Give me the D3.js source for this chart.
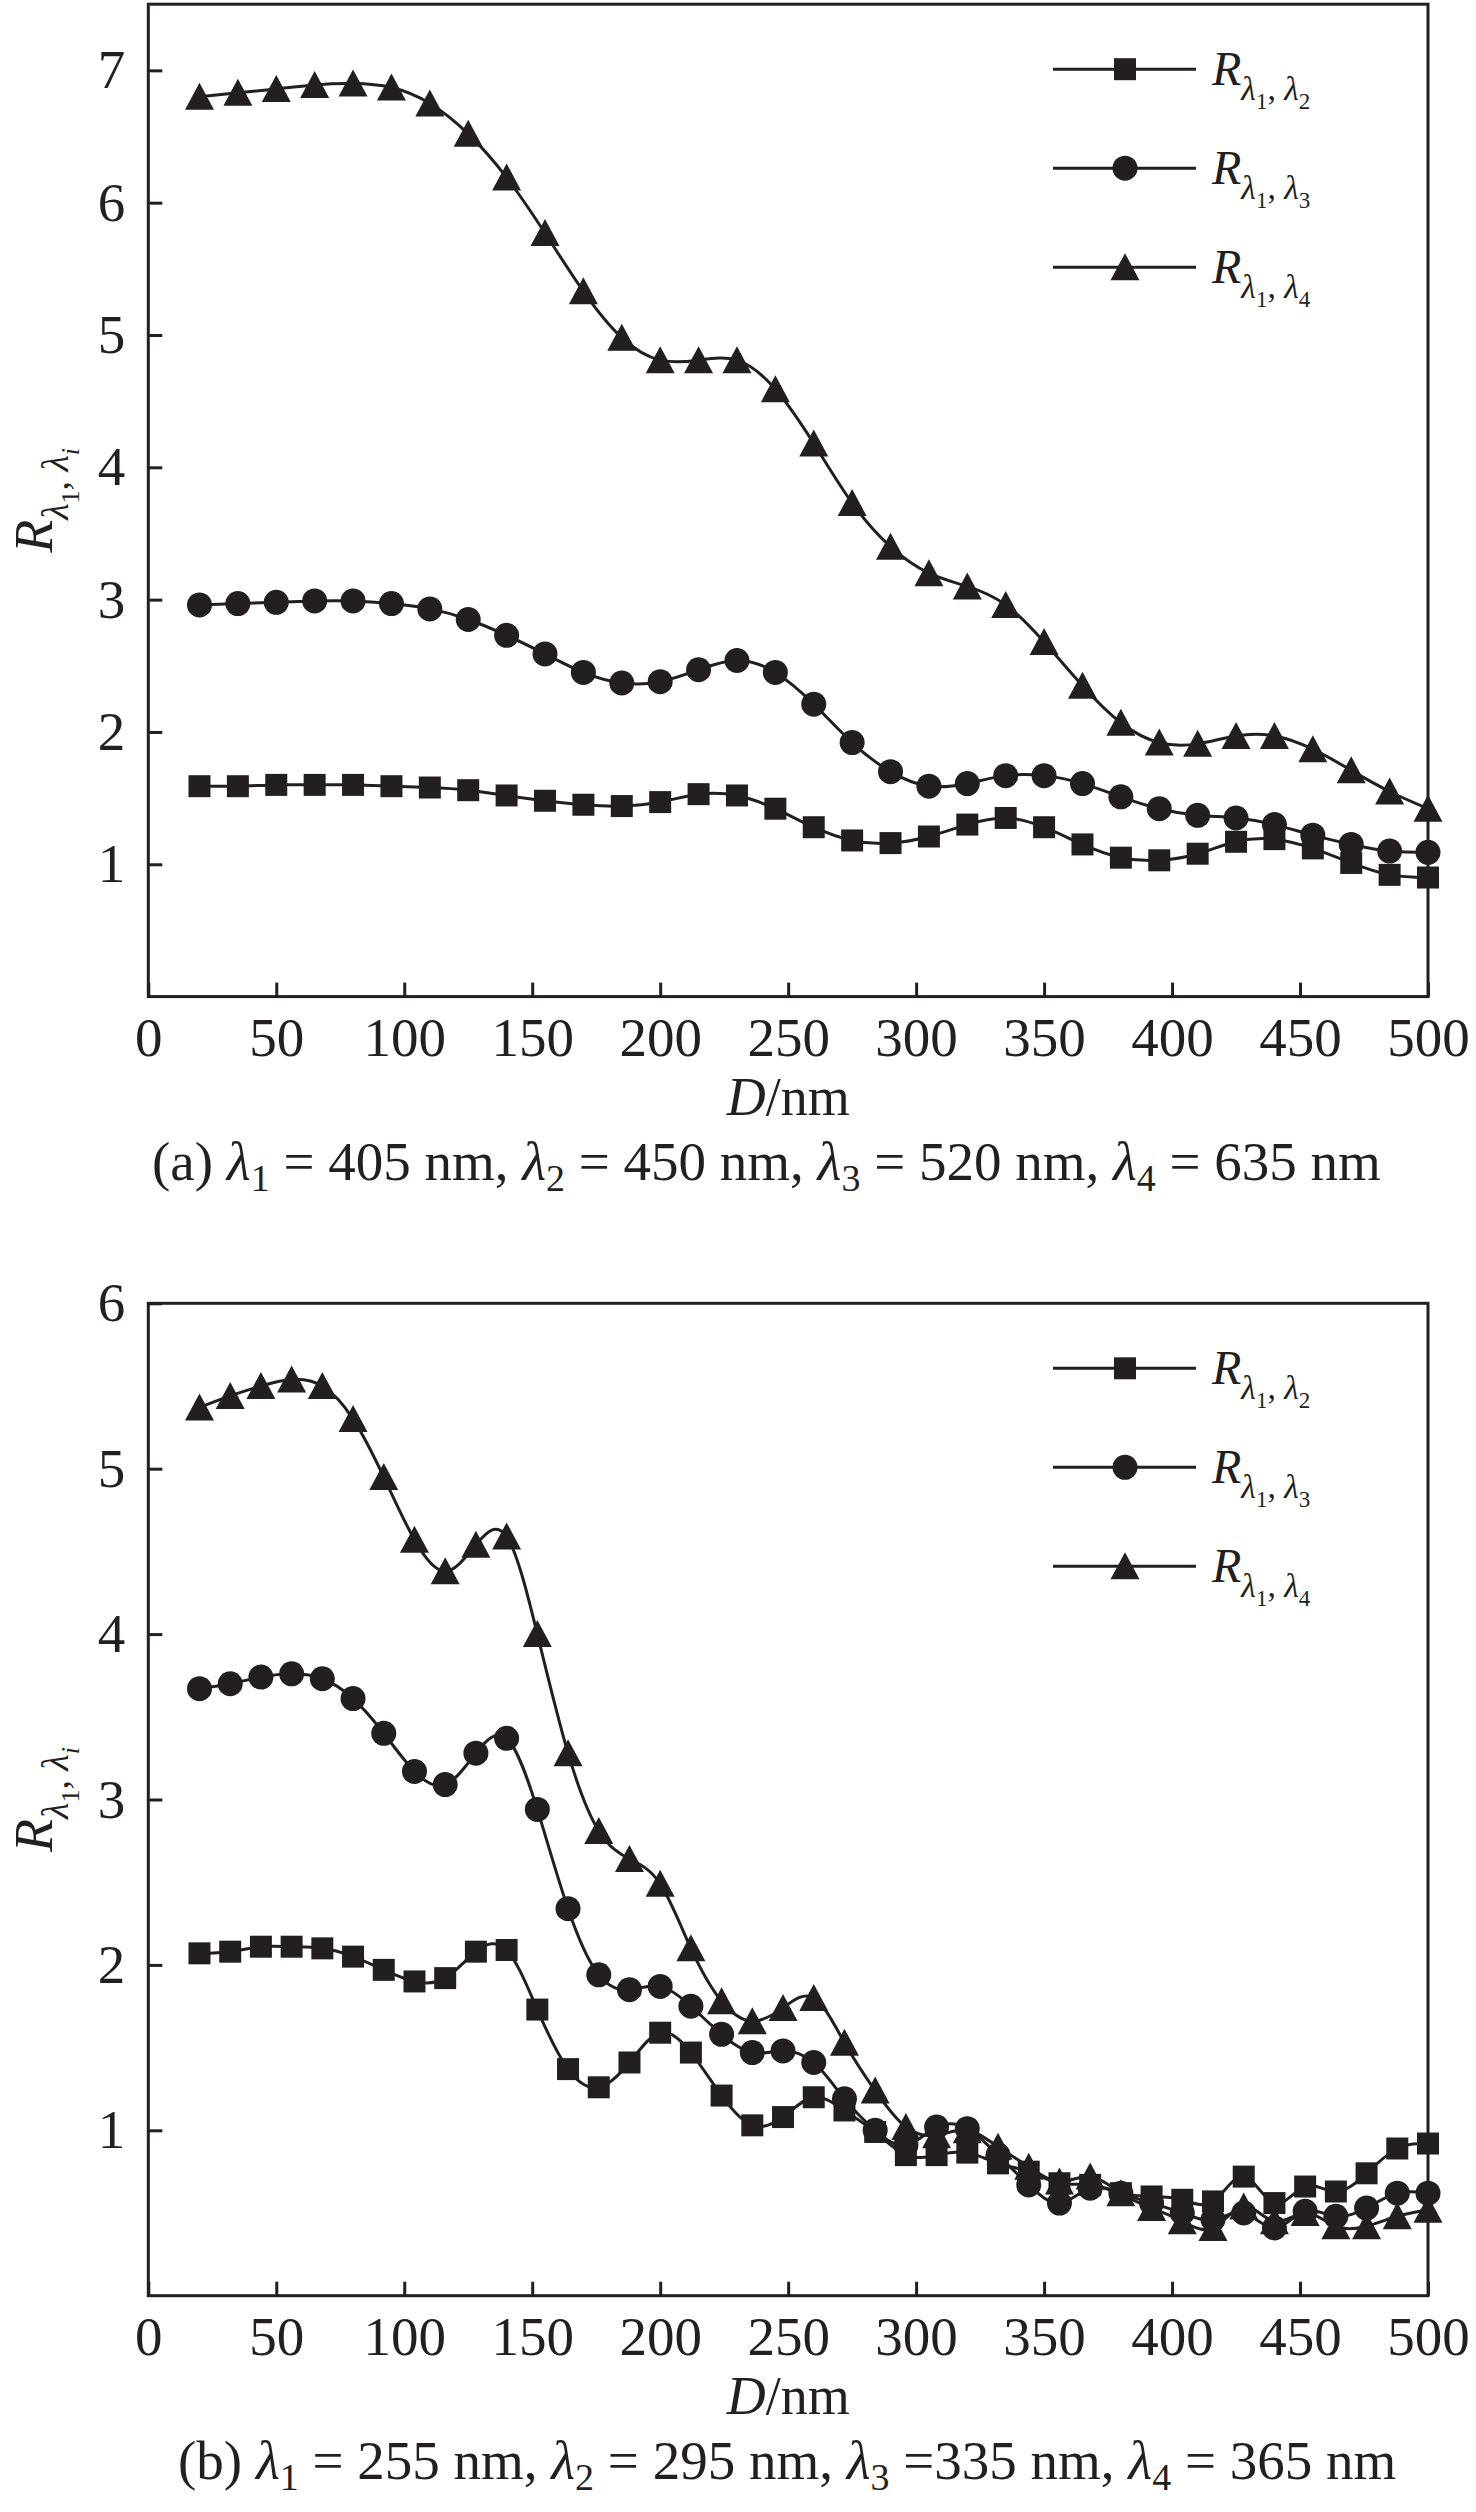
<!DOCTYPE html>
<html>
<head>
<meta charset="utf-8">
<script src="https://cdn.jsdelivr.net/npm/d3@7"></script>
<style>
  body { margin: 0; background: #fff; }
  svg { display: block; }
  text { font-family: "Liberation Serif", "Times New Roman", serif; fill: #231f20; }
</style>
</head>
<body>
<div id="chart"></div>
<script>
// ---- data ----
const xTicks = [0, 50, 100, 150, 200, 250, 300, 350, 400, 450, 500];

// panel (a): D step 15 nm
const dA = [20, 35, 50, 65, 80, 95, 110, 125, 140, 155, 170, 185, 200, 215, 230, 245, 260,
    275, 290, 305, 320, 335, 350, 365, 380, 395, 410, 425, 440, 455, 470, 485, 500];
const a12 = [1.59, 1.59, 1.60, 1.60, 1.60, 1.59, 1.58, 1.56, 1.52, 1.48, 1.45, 1.44, 1.47, 1.53, 1.52, 1.42, 1.28,
    1.18, 1.16, 1.21, 1.30, 1.35, 1.28, 1.15, 1.05, 1.03, 1.08, 1.17, 1.19, 1.12, 1.01, 0.92, 0.90];
const a13 = [2.96, 2.97, 2.98, 2.99, 2.99, 2.97, 2.93, 2.85, 2.73, 2.59, 2.45, 2.37, 2.38, 2.47, 2.54, 2.45, 2.21,
    1.92, 1.70, 1.59, 1.61, 1.67, 1.67, 1.61, 1.51, 1.42, 1.37, 1.35, 1.30, 1.22, 1.15, 1.10, 1.09];
const a14 = [6.80, 6.83, 6.86, 6.89, 6.90, 6.87, 6.75, 6.52, 6.19, 5.77, 5.33, 4.98, 4.81, 4.81, 4.81, 4.59, 4.18,
    3.73, 3.40, 3.20, 3.10, 2.96, 2.68, 2.35, 2.07, 1.92, 1.91, 1.97, 1.97, 1.87, 1.71, 1.55, 1.42];
const aYTicks = [1, 2, 3, 4, 5, 6, 7];

// panel (b): D step 12 nm
const dB = [20, 32, 44, 56, 68, 80, 92, 104, 116, 128, 140, 152, 164, 176, 188, 200, 212, 224, 236, 248, 260,
    272, 284, 296, 308, 320, 332, 344, 356, 368, 380, 392, 404, 416, 428, 440, 452, 464, 476, 488, 500];
const b12 = [2.07, 2.08, 2.11, 2.11, 2.10, 2.05, 1.97, 1.90, 1.92, 2.08, 2.09, 1.73, 1.37, 1.26, 1.41, 1.59, 1.47, 1.21, 1.03, 1.08, 1.20,
    1.12, 0.99, 0.85, 0.85, 0.865, 0.80, 0.75, 0.68, 0.67, 0.62, 0.60, 0.58, 0.57, 0.72, 0.56, 0.66, 0.63, 0.74, 0.89, 0.92];
const b13 = [3.67, 3.70, 3.74, 3.76, 3.73, 3.61, 3.40, 3.17, 3.09, 3.28, 3.37, 2.94, 2.34, 1.94, 1.85, 1.87, 1.75, 1.58, 1.47, 1.48, 1.41,
    1.19, 1.00, 0.91, 1.02, 1.01, 0.85, 0.67, 0.56, 0.65, 0.62, 0.56, 0.50, 0.46, 0.50, 0.41, 0.51, 0.48, 0.53, 0.62, 0.62];
const b14 = [5.37, 5.44, 5.50, 5.54, 5.50, 5.30, 4.95, 4.57, 4.38, 4.54, 4.59, 4.00, 3.28, 2.81, 2.64, 2.49, 2.10, 1.78, 1.66, 1.74, 1.80,
    1.53, 1.24, 1.02, 0.97, 1.00, 0.90, 0.78, 0.69, 0.72, 0.62, 0.53, 0.45, 0.41, 0.54, 0.45, 0.50, 0.42, 0.42, 0.48, 0.52];
const bYTicks = [1, 2, 3, 4, 5, 6];

const ink = "#231f20";
const W = 1476, H = 2512;

const svg = d3.select("#chart").append("svg")
    .attr("width", W)
    .attr("height", H);

// writes a text made of runs; each run: [text, size, italic, shift(px, down)]
function richText(g, x, y, runs, anchor) {
    const t = g.append("text")
        .attr("x", x)
        .attr("y", y)
        .attr("text-anchor", anchor || "start");
    let cur = 0;
    runs.forEach(r => {
        const sh = r[3] || 0;
        t.append("tspan")
            .attr("dy", sh - cur)
            .style("font-size", r[1] + "px")
            .style("font-style", r[2] ? "italic" : "normal")
            .text(r[0]);
        cur = sh;
    });
    return t;
}

// R with lambda subscripts, scaled by the size of R
function rLabel(s, i) {
    return [
        ["R", s, true, 0],
        ["\u03bb", s * 0.7, true, s * 0.3],
        ["1", s * 0.48, false, s * 0.5],
        [", ", s * 0.7, false, s * 0.3],
        ["\u03bb", s * 0.7, true, s * 0.3],
        [i, s * 0.48, i == "i", s * 0.5]
    ];
}

function caption(tag, vals, tight) {
    const runs = [["(" + tag + ") ", 55, false, 0]];
    vals.forEach((v, k) => {
        runs.push(["\u03bb", 55, true, 0]);
        runs.push([String(k + 1), 38, false, 11]);
        const eq = (tight && k == 2) ? " =" : " = ";
        runs.push([eq + v + " nm" + (k < 3 ? ", " : ""), 55, false, 0]);
    });
    return runs;
}

const left = 148.3, right = 1428;

function drawPanel(top, bottom, yMax, yTicks, xs, series, capRuns, capX) {
    const g = svg.append("g");

    const x = d3.scaleLinear().domain([0, 500]).range([left, right]);
    const y = d3.scaleLinear().domain([0, yMax]).range([bottom, top]);

    // axes with inward ticks
    const xAxis = g.append("g")
        .attr("transform", `translate(0,${bottom})`)
        .call(d3.axisBottom(x).tickValues(xTicks).tickSize(-14).tickPadding(20).tickFormat(d3.format("d")));
    const yAxis = g.append("g")
        .attr("transform", `translate(${left},0)`)
        .call(d3.axisLeft(y).tickValues(yTicks).tickSize(-14).tickPadding(23).tickFormat(d3.format("d")));
    [xAxis, yAxis].forEach(a => {
        a.select(".domain").remove();
        a.selectAll("line").attr("stroke", ink).attr("stroke-width", 3);
        a.selectAll("text").style("font-size", "55px").attr("fill", ink);
    });

    g.append("rect")
        .attr("x", left)
        .attr("y", top)
        .attr("width", right - left)
        .attr("height", bottom - top)
        .attr("fill", "none")
        .attr("stroke", ink)
        .attr("stroke-width", 3);

    const line = d3.line()
        .x(d => x(d[0]))
        .y(d => y(d[1]))
        .curve(d3.curveNatural);

    series.forEach(s => {
        const pts = xs.map((d, i) => [d, s.vals[i]]);
        g.append("path")
            .datum(pts)
            .attr("d", line)
            .attr("fill", "none")
            .attr("stroke", ink)
            .attr("stroke-width", 3);
        g.selectAll(null)
            .data(pts)
            .join("path")
            .attr("d", s.shape)
            .attr("transform", d => `translate(${x(d[0])},${y(d[1])})`)
            .attr("fill", ink);
    });

    // legend
    const lx0 = right - 375, lx1 = right - 232, lm = right - 303, lt = right - 216;
    series.forEach((s, k) => {
        const ly = top + 65 + k * 99;
        g.append("line")
            .attr("x1", lx0).attr("x2", lx1)
            .attr("y1", ly).attr("y2", ly)
            .attr("stroke", ink)
            .attr("stroke-width", 3);
        g.append("path")
            .attr("d", s.shape)
            .attr("transform", `translate(${lm},${ly})`)
            .attr("fill", ink);
        richText(g, lt, ly + 16, rLabel(48, s.sub));
    });

    // y label
    const yl = g.append("g")
        .attr("transform", `translate(52,${(top + bottom) / 2}) rotate(-90)`);
    richText(yl, 0, 0, rLabel(54, "i"), "middle");

    // x label
    richText(g, (left + right) / 2, bottom + 118, [["D", 54, true, 0], ["/nm", 54, false, 0]], "middle");

    richText(g, capX, bottom + 183, capRuns);
}

const square = "M-11,-11H11V11H-11Z";
const circle = d3.symbol().type(d3.symbolCircle).size(Math.PI * 12.5 * 12.5)();
const tri = "M0,-14L14.5,13L-14.5,13Z";

drawPanel(4.2, 996.6, 7.5, aYTicks, dA, [
    { vals: a12, shape: square, sub: "2" },
    { vals: a13, shape: circle, sub: "3" },
    { vals: a14, shape: tri, sub: "4" }
], caption("a", [405, 450, 520, 635], false), 152);

drawPanel(1303.3, 2295.7, 6, bYTicks, dB, [
    { vals: b12, shape: square, sub: "2" },
    { vals: b13, shape: circle, sub: "3" },
    { vals: b14, shape: tri, sub: "4" }
], caption("b", [255, 295, 335, 365], true), 178);
</script>
</body>
</html>
